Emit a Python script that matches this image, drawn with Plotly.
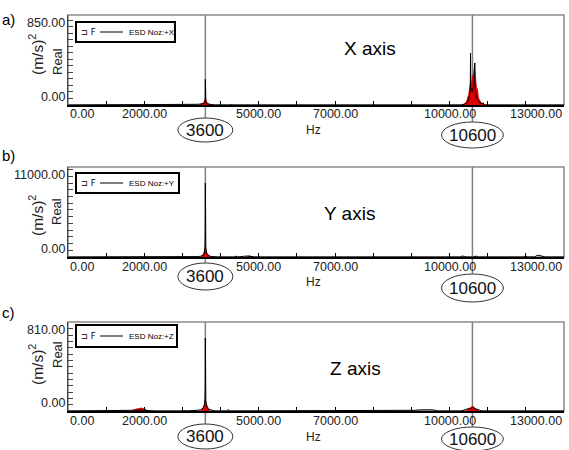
import plotly.graph_objects as go

# ---------------- data ----------------
FREQ_RANGE = [0, 13000]
MARKERS = [3600, 10600]
MARKER_TEXT = ["3600", "10600"]
X_TICK_VALS = [0, 2000, 5000, 7000, 10000, 13000]
X_TICK_TEXT = ["0.00", "2000.00", "5000.00", "7000.00", "10000.00", "13000.00"]
PANEL_TAGS = ["a)", "b)", "c)"]
PANEL_TITLES = ["X axis", "Y axis", "Z axis"]
LEGEND_NAMES = ["ESD Noz:+X", "ESD Noz:+Y", "ESD Noz:+Z"]
Y_MAX = [850, 11000, 810]
Y_TICK_TEXT = [["0.00", "850.00"], ["0.00", "11000.00"], ["0.00", "810.00"]]

# panel a (X axis) - black ESD line
a_black_f = [0, 1500, 1560, 1620, 1760, 1800, 1840, 3250, 3300, 3380, 3450, 3520, 3560, 3585,
             3596, 3600, 3604, 3615, 3640, 3690, 3740, 3800, 3850, 4250, 4280, 4320, 9380, 9420,
             9460, 9560, 9600, 9650, 10300, 10400, 10480, 10530, 10545, 10550, 10556, 10600,
             10640, 10660, 10668, 10700, 10760, 10850, 10880, 10910, 13000]
a_black_v = [0, 0, 5, 0, 0, 8, 0, 0, 6, 8, 10, 12, 18, 30,
             60, 295, 60, 25, 14, 10, 8, 6, 0, 0, 5, 0, 0, 7,
             0, 0, 7, 0, 0, 10, 40, 120, 250, 597, 200, 150,
             250, 482, 220, 90, 40, 15, 25, 0, 0]
# panel a - red F spectrum (None separates the separate humps)
a_red_f = [3450, 3500, 3540, 3570, 3590, 3600, 3610, 3630, 3660, 3700, 3750, None,
           10340, 10380, 10420, 10450, 10480, 10500, 10520, 10535, 10550, 10565, 10580, 10600,
           10615, 10630, 10645, 10660, 10672, 10685, 10700, 10715, 10730, 10745, 10760, 10790,
           10820, 10860, 10900, 10940]
a_red_v = [0, 8, 20, 40, 60, 75, 58, 35, 18, 8, 0, None,
           0, 8, 25, 45, 80, 120, 170, 200, 260, 210, 300, 340,
           290, 380, 440, 480, 350, 260, 210, 160, 190, 120, 80, 55,
           30, 15, 5, 0]

# panel b (Y axis)
b_black_f = [0, 3300, 3400, 3480, 3540, 3575, 3590, 3596, 3600, 3604, 3612, 3630, 3680, 3750,
             3850, 3950, 4350, 4400, 4450, 4550, 4600, 4700, 4800, 4900, 10280, 10330, 10400,
             10450, 10620, 10700, 10760, 11950, 12000, 12050, 12230, 12280, 12340, 12400,
             12450, 12500, 13000]
b_black_v = [0, 0, 60, 120, 250, 600, 1500, 4000, 11000, 4000, 1500, 500, 200, 80,
             30, 0, 0, 120, 0, 0, 100, 150, 90, 0, 0, 150, 80,
             0, 0, 130, 0, 0, 150, 0, 0, 200, 260, 180,
             120, 0, 0]
b_red_f = [3480, 3520, 3550, 3570, 3585, 3600, 3615, 3630, 3650, 3680, 3710, 3740, None,
           4680, 4720, 4760, 4800, 4840]
b_red_v = [0, 200, 450, 800, 1200, 1500, 1100, 800, 500, 300, 120, 0, None,
           0, 120, 180, 80, 0]

# panel c (Z axis)
c_black_f = [0, 1400, 1500, 1600, 1700, 1800, 1900, 2000, 2100, 2200, 2300, 3000, 3050, 3100,
             3350, 3400, 3480, 3540, 3575, 3590, 3596, 3600, 3604, 3612, 3630, 3680, 3760,
             3850, 4150, 4200, 4250, 5700, 5750, 5800, 9000, 9100, 9200, 9300, 9400, 9500,
             9600, 9700, 10300, 10380, 10450, 10520, 10560, 10600, 10650, 10700, 10780,
             10850, 13000]
c_black_v = [0, 0, 6, 0, 8, 12, 10, 14, 8, 5, 0, 0, 6, 0,
             0, 8, 15, 30, 70, 140, 263, 810, 263, 120, 50, 20, 10,
             0, 0, 15, 0, 0, 5, 0, 0, 8, 12, 15, 12, 14,
             10, 0, 0, 10, 20, 30, 25, 40, 30, 20, 10,
             0, 0]
c_red_f = [1650, 1700, 1780, 1850, 1930, 2000, 2060, 2100, None,
           3480, 3520, 3555, 3580, 3600, 3620, 3650, 3690, 3720, None,
           10420, 10470, 10520, 10560, 10600, 10640, 10690, 10740, 10780]
c_red_v = [0, 10, 20, 28, 32, 25, 10, 0, None,
           0, 20, 45, 80, 120, 85, 45, 15, 0, None,
           0, 12, 25, 40, 55, 40, 20, 5, 0]

BLACK = [(a_black_f, a_black_v), (b_black_f, b_black_v), (c_black_f, c_black_v)]
RED = [(a_red_f, a_red_v), (b_red_f, b_red_v), (c_red_f, c_red_v)]

# ---------------- layout geometry (pixels) ----------------
W, H = 569, 450
X_LEFT, X_RIGHT = 68, 564
FRAMES = [(15, 105), (167, 257), (322, 411)]          # top, bottom px
LABEL_OFFSET = 8                                      # y labels drawn above their tick
Y_DTICK = [75, 1000, 70]
XLAB_Y = [114, 267, 421]
HZ_Y = [130, 282, 437]
TAG_Y = [19, 155, 312]
TITLE_POS = [(370, 48), (349, 213), (355, 368)]
YT_POS = [(55, 62), (216, 212), (365, 355)]           # (m/s)^2 centre y, Real centre y
LEG_BOX = [(76, 175, 22, 42), (76, 179, 173, 193), (76, 177, 325, 347)]
ELL = [[(118, 142), (122, 148)], [(263, 290), (274, 302)], [(424, 449), (427, 451)]]
ELL_HALF = [720, 810]


def px(x):
    return x / W


def py(y):
    return 1 - y / H


fig = go.Figure()
shapes = []
annotations = []
FONT = "Liberation Sans, Arial, sans-serif"


def note(**kw):
    kw.setdefault("showarrow", False)
    kw.setdefault("xanchor", "center")
    kw.setdefault("yanchor", "middle")
    annotations.append(kw)


for i in range(3):
    n = "" if i == 0 else str(i + 1)
    xa, ya = "x" + n, "y" + n
    top, bot = FRAMES[i]
    span_px = bot - top
    tick_px = bot - (top + 2 * LABEL_OFFSET)   # baseline to the max-value tick
    yr_top = Y_MAX[i] * span_px / tick_px

    fig.add_trace(go.Scatter(x=RED[i][0], y=RED[i][1], mode="lines", fill="tozeroy",
                             connectgaps=False,
                             line=dict(color="#e00000", width=0.8), fillcolor="#e00000",
                             xaxis=xa, yaxis=ya, showlegend=False, hoverinfo="skip"))
    fig.add_trace(go.Scatter(x=BLACK[i][0], y=BLACK[i][1], mode="lines",
                             line=dict(color="#000000", width=1),
                             xaxis=xa, yaxis=ya, showlegend=False, hoverinfo="skip"))

    fig.update_layout(**{
        "xaxis" + n: dict(domain=[px(X_LEFT), px(X_RIGHT)], range=FREQ_RANGE, anchor=ya,
                          showline=True, linecolor="#000", linewidth=1.5, ticks="inside",
                          ticklen=4, tickcolor="#000", tick0=0, dtick=1000,
                          showticklabels=False, showgrid=False, zeroline=False),
        "yaxis" + n: dict(domain=[py(bot), py(top)], range=[0, yr_top], anchor=xa,
                          showline=True, linecolor="#444", linewidth=1.2, ticks="inside",
                          ticklen=5, tickcolor="#444", tick0=0, dtick=Y_DTICK[i],
                          showticklabels=False, showgrid=False, zeroline=False),
    })

    # frame (top / right)
    shapes.append(dict(type="rect", xref="paper", yref="paper", x0=px(X_LEFT), x1=px(X_RIGHT),
                       y0=py(bot), y1=py(top), line=dict(color="#8a8a8a", width=1.5),
                       layer="below"))
    # cursor lines + circled labels
    for k, m in enumerate(MARKERS):
        e0, e1 = ELL[i][k]
        shapes.append(dict(type="line", xref=xa, yref="paper", x0=m, x1=m,
                           y0=py(e0), y1=py(top), line=dict(color="#808080", width=1.5),
                           layer="below"))
        shapes.append(dict(type="circle", xref=xa, yref="paper", x0=m - ELL_HALF[k],
                           x1=m + ELL_HALF[k], y0=py(e1), y1=py(e0),
                           line=dict(color="#333", width=1), fillcolor="rgba(255,255,255,0)"))
        note(xref=xa, yref="paper", x=m, y=py((e0 + e1) / 2), text=MARKER_TEXT[k],
             font=dict(family=FONT, size=17, color="#111"))
    # x tick labels
    for v, t in zip(X_TICK_VALS, X_TICK_TEXT):
        anc = "left" if v == FREQ_RANGE[0] else ("right" if v == FREQ_RANGE[1] else "center")
        note(xref=xa, yref="paper", x=v, y=py(XLAB_Y[i]), text=t, xanchor=anc,
             font=dict(family=FONT, size=12.5, color="#222"))
    # y tick labels
    for v, t in zip([0, Y_MAX[i]], Y_TICK_TEXT[i]):
        note(xref="paper", yref=ya, x=px(X_LEFT - 1), y=v, yshift=LABEL_OFFSET, text=t,
             xanchor="right", font=dict(family=FONT, size=12.5, color="#222"))
    # axis titles
    note(xref="paper", yref="paper", x=px(313), y=py(HZ_Y[i]), text="Hz",
         font=dict(family=FONT, size=12, color="#222"))
    note(xref="paper", yref="paper", x=px(36), y=py(YT_POS[i][0]), text="(m/s)<sup>2</sup>",
         textangle=-90, font=dict(family=FONT, size=15.5, color="#222"))
    note(xref="paper", yref="paper", x=px(57), y=py(YT_POS[i][1]), text="Real",
         textangle=-90, font=dict(family=FONT, size=13, color="#222"))
    # panel tag and title
    note(xref="paper", yref="paper", x=0, y=py(TAG_Y[i]), text=PANEL_TAGS[i], xanchor="left",
         font=dict(family=FONT, size=15, color="#000"))
    note(xref="paper", yref="paper", x=px(TITLE_POS[i][0]), y=py(TITLE_POS[i][1]),
         text=PANEL_TITLES[i], font=dict(family=FONT, size=19, color="#000"))
    # legend box
    lx0, lx1, ly0, ly1 = LEG_BOX[i]
    lyc = (ly0 + ly1) / 2
    shapes.append(dict(type="rect", xref="paper", yref="paper", x0=px(lx0), x1=px(lx1),
                       y0=py(ly1), y1=py(ly0), line=dict(color="#000", width=2),
                       fillcolor="#fff"))
    shapes.append(dict(type="line", xref="paper", yref="paper", x0=px(lx0 + 24), x1=px(lx0 + 47),
                       y0=py(lyc), y1=py(lyc), line=dict(color="#000", width=1)))
    note(xref="paper", yref="paper", x=px(lx0 + 3), y=py(lyc), text="⊐ F", xanchor="left",
         font=dict(family="DejaVu Sans, sans-serif", size=8.5, color="#000"))
    note(xref="paper", yref="paper", x=px(lx0 + 51), y=py(lyc), text=LEGEND_NAMES[i],
         xanchor="left", font=dict(family=FONT, size=8, color="#000"))

fig.update_layout(width=W, height=H, margin=dict(l=0, r=0, t=0, b=0),
                  paper_bgcolor="#fff", plot_bgcolor="#fff", showlegend=False,
                  shapes=shapes, annotations=annotations)

fig.write_html("out.html")
